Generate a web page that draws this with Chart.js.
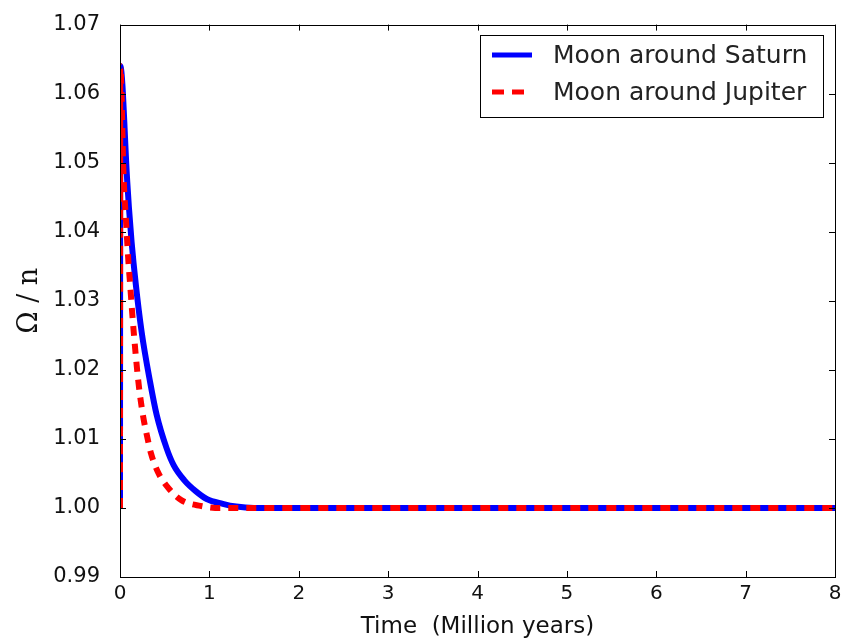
<!DOCTYPE html>
<html>
<head>
<meta charset="utf-8">
<script src="https://cdn.jsdelivr.net/npm/chart.js@4"></script>
<style>
  html, body { margin: 0; padding: 0; background: #fff; }
  #wrap { width: 842px; height: 643px; }
</style>
</head>
<body>
<div id="wrap"><canvas id="chart" width="842" height="643"></canvas></div>
<script>
// values
const saturnTime = [0, 0.003, 0.08, 0.1, 0.13, 0.175, 0.242, 0.336, 0.41, 0.52, 0.6, 0.72, 0.85, 0.97, 1.15, 1.3, 1.5, 8];
const saturnOmega = [1.0, 1.064, 1.0475, 1.0435, 1.0385, 1.0326, 1.0255, 1.0183, 1.0135, 1.0087, 1.0062, 1.004, 1.0024, 1.0013, 1.0006, 1.0002, 1.0, 1.0];

const jupiterTime = [0, 0.003, 0.04, 0.07, 0.095, 0.112, 0.138, 0.16, 0.198, 0.224, 0.261, 0.298, 0.347, 0.42, 0.54, 0.69, 0.9, 1.12, 8];
const jupiterOmega = [1.0, 1.064, 1.048, 1.041, 1.0355, 1.0326, 1.028, 1.0245, 1.0192, 1.0163, 1.0131, 1.0107, 1.0079, 1.0053, 1.0029, 1.0011, 1.0003, 1.0, 1.0];

const seriesLabels = ["Moon around Saturn", "Moon around Jupiter"];
const xTicks = [0, 1, 2, 3, 4, 5, 6, 7, 8];
const yTicks = [0.99, 1.00, 1.01, 1.02, 1.03, 1.04, 1.05, 1.06, 1.07];

const toPoints = (xs, ys) => xs.map((x, i) => ({ x: x, y: ys[i] }));

// matplotlib style: inward ticks on all four sides plus a frame
const frameTicks = {
  id: "frameTicks",
  afterDatasetsDraw(chart) {
    const { ctx, chartArea: a, scales } = chart;
    ctx.save();
    ctx.strokeStyle = "#000";
    ctx.lineWidth = 1;
    ctx.beginPath();
    xTicks.forEach((v) => {
      const px = Math.round(scales.x.getPixelForValue(v)) + 0.5;
      ctx.moveTo(px, a.bottom); ctx.lineTo(px, a.bottom - 6);
      ctx.moveTo(px, a.top); ctx.lineTo(px, a.top + 6);
    });
    yTicks.forEach((v) => {
      const py = Math.round(scales.y.getPixelForValue(v)) + 0.5;
      ctx.moveTo(a.left, py); ctx.lineTo(a.left + 6, py);
      ctx.moveTo(a.right, py); ctx.lineTo(a.right - 6, py);
    });
    ctx.stroke();
    ctx.strokeRect(Math.round(a.left) + 0.5, Math.round(a.top) + 0.5,
      Math.round(a.right - a.left), Math.round(a.bottom - a.top));
    ctx.restore();
  }
};

// boxed legend in the upper right
const boxLegend = {
  id: "boxLegend",
  afterDraw(chart) {
    const { ctx } = chart;
    const x0 = 480, y0 = 35, w = 343, h = 82;
    ctx.save();
    ctx.fillStyle = "#fff";
    ctx.fillRect(x0, y0, w, h);
    ctx.strokeStyle = "#000";
    ctx.lineWidth = 1;
    ctx.strokeRect(x0 + 0.5, y0 + 0.5, w, h);
    ctx.font = "25px 'DejaVu Sans'";
    ctx.fillStyle = "#222";
    ctx.textBaseline = "middle";
    chart.data.datasets.forEach((ds, i) => {
      const cy = y0 + 20 + i * 37;
      ctx.strokeStyle = ds.borderColor;
      ctx.lineWidth = 5;
      ctx.setLineDash(ds.borderDash ? [12, 8] : []);
      ctx.beginPath();
      ctx.moveTo(x0 + 12, cy); ctx.lineTo(x0 + 52, cy);
      ctx.stroke();
      ctx.setLineDash([]);
      ctx.fillText(ds.label, x0 + 73, cy + 1);
    });
    ctx.restore();
  }
};

new Chart(document.getElementById("chart"), {
  type: "line",
  data: {
    datasets: [
      {
        label: seriesLabels[0],
        data: toPoints(saturnTime, saturnOmega),
        borderColor: "#0000ff",
        borderWidth: 6,
        pointRadius: 0,
        cubicInterpolationMode: "monotone",
        order: 1
      },
      {
        label: seriesLabels[1],
        data: toPoints(jupiterTime, jupiterOmega),
        borderColor: "#ff0000",
        borderWidth: 6,
        borderDash: [10, 8],
        pointRadius: 0,
        cubicInterpolationMode: "monotone",
        order: 0
      }
    ]
  },
  options: {
    responsive: false,
    animation: false,
    layout: { padding: { top: 20, right: 7, left: 0, bottom: 0 } },
    plugins: { legend: { display: false }, tooltip: { enabled: false } },
    scales: {
      x: {
        type: "linear",
        min: 0,
        max: 8,
        afterBuildTicks: (s) => { s.ticks = xTicks.map((v) => ({ value: v })); },
        grid: { display: false },
        border: { display: false },
        ticks: { color: "#111", font: { family: "DejaVu Sans", size: 20 }, padding: -3, maxRotation: 0 },
        title: { display: true, text: "Time  (Million years)", color: "#111", font: { family: "DejaVu Sans", size: 23 }, padding: { top: 0, bottom: 2 } },
        afterFit: (s) => { s.height = 66; }
      },
      y: {
        min: 0.99,
        max: 1.07,
        afterBuildTicks: (s) => { s.ticks = yTicks.map((v) => ({ value: v })); },
        grid: { display: false },
        border: { display: false },
        ticks: { color: "#111", font: { family: "DejaVu Sans", size: 21 }, padding: 12, callback: (v) => v.toFixed(2) },
        title: { display: true, text: "Ω / n", color: "#111", font: { family: "DejaVu Serif", size: 27 }, padding: { top: 14, bottom: 0 } },
        afterFit: (s) => { s.width = 120; }
      }
    }
  },
  plugins: [frameTicks, boxLegend]
});
</script>
</body>
</html>
